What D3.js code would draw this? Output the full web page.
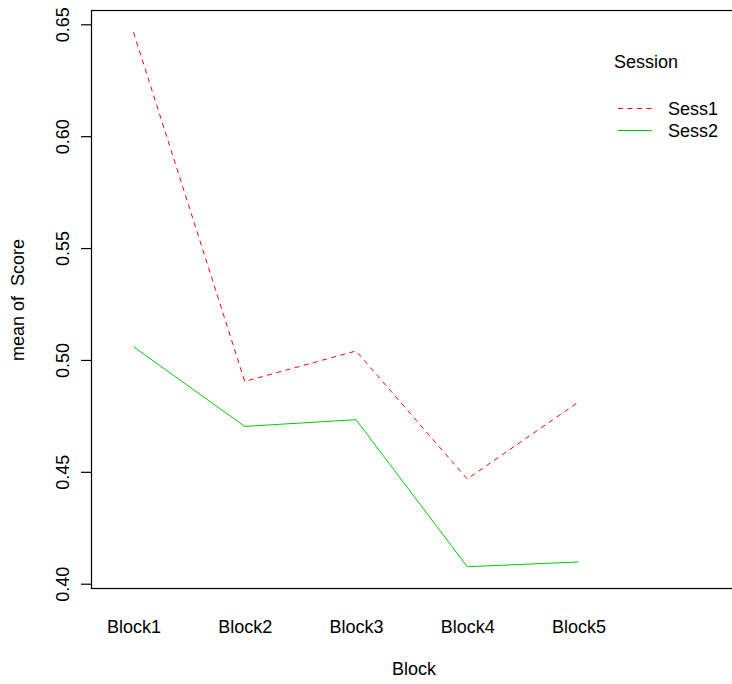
<!DOCTYPE html>
<html>
<head>
<meta charset="utf-8">
<script src="https://cdn.jsdelivr.net/npm/d3@7"></script>
<style>
  html, body { margin: 0; padding: 0; background: #fff; }
  svg { display: block; }
  text { font-family: "Liberation Sans", Arial, sans-serif; fill: #000; }
</style>
</head>
<body>
<svg id="chart" width="732" height="684"></svg>
<script>
// Mean score per block, one series per session
const blocks = ["Block1", "Block2", "Block3", "Block4", "Block5"];
const sess1 = [0.6464, 0.4904, 0.5040, 0.4468, 0.4812];
const sess2 = [0.5059, 0.4703, 0.4733, 0.4076, 0.4097];
const yTicks = [0.40, 0.45, 0.50, 0.55, 0.60, 0.65];
const seriesNames = ["Sess1", "Sess2"];

const svg = d3.select("#chart");

// plot frame
const box = { left: 91.5, top: 10.5, right: 740, bottom: 588.5 };

const x = d3.scalePoint().domain(blocks).range([133.5, 578.5]);
const y = d3.scaleLinear().domain([0.40, 0.65]).range([583.7, 24.3]);

const series = [
  { name: seriesNames[0], values: sess1, color: "#FF0000", dash: "5,4.5" },
  { name: seriesNames[1], values: sess2, color: "#00CD00", dash: null }
];

const line = d3.line()
  .x((d, i) => x(blocks[i]))
  .y(d => y(d));

series.forEach(s => {
  svg.append("path")
    .datum(s.values)
    .attr("d", line)
    .attr("fill", "none")
    .attr("stroke", s.color)
    .attr("stroke-width", 1)
    .attr("stroke-dasharray", s.dash);
});

// frame
svg.append("rect")
  .attr("x", box.left).attr("y", box.top)
  .attr("width", box.right - box.left).attr("height", box.bottom - box.top)
  .attr("fill", "none").attr("stroke", "#000").attr("stroke-width", 1.2);

// y axis
const yAxis = svg.append("g")
  .attr("transform", `translate(${box.left},0)`)
  .call(d3.axisLeft(y).tickValues(yTicks).tickSize(10.5).tickFormat(d3.format(".2f")));
yAxis.select(".domain").remove();
yAxis.selectAll(".tick line").attr("stroke", "#000").attr("stroke-width", 1.2);
yAxis.selectAll(".tick text")
  .attr("font-size", 18)
  .attr("font-family", "Liberation Sans, Arial, sans-serif")
  .attr("fill", "#000")
  .attr("x", 0).attr("dy", 0)
  .attr("text-anchor", "middle")
  .attr("transform", "translate(-23,0) rotate(-90)");

// x category labels
const xAxis = svg.append("g")
  .attr("transform", `translate(0,${box.bottom})`)
  .call(d3.axisBottom(x).tickSize(0).tickPadding(0));
xAxis.select(".domain").remove();
xAxis.selectAll(".tick text")
  .attr("font-size", 18)
  .attr("font-family", "Liberation Sans, Arial, sans-serif")
  .attr("fill", "#000")
  .attr("y", 44).attr("dy", 0);

// axis titles
svg.append("text")
  .attr("x", 414).attr("y", 675)
  .attr("text-anchor", "middle").attr("font-size", 18)
  .text("Block");

svg.append("text")
  .attr("transform", "translate(24,300) rotate(-90)")
  .attr("text-anchor", "middle").attr("font-size", 18)
  .style("white-space", "pre")
  .text("mean of  Score");

// legend
const legend = svg.append("g");
legend.append("text")
  .attr("x", 614).attr("y", 68)
  .attr("font-size", 18)
  .text("Session");

series.forEach((s, i) => {
  const ly = 108.5 + i * 22;
  legend.append("line")
    .attr("x1", 618).attr("x2", 652)
    .attr("y1", ly).attr("y2", ly)
    .attr("stroke", s.color).attr("stroke-width", 1)
    .attr("stroke-dasharray", s.dash);
  legend.append("text")
    .attr("x", 668).attr("y", ly + 6.5)
    .attr("font-size", 18)
    .text(s.name);
});
</script>
</body>
</html>
